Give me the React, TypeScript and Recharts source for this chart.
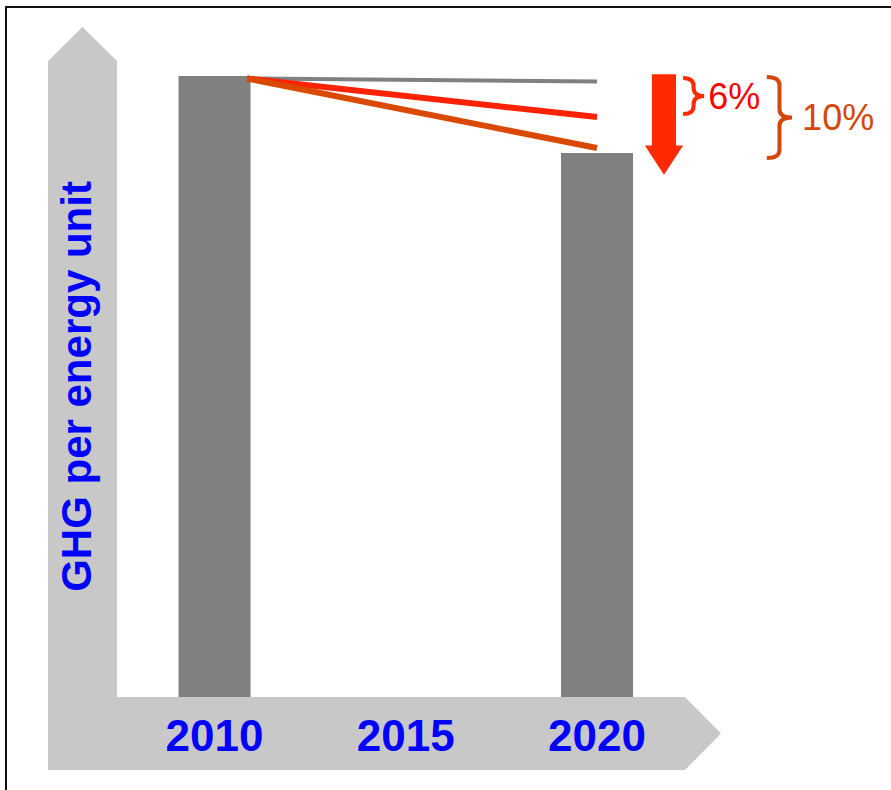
import {
  ComposedChart,
  Bar,
  Line,
  XAxis,
  YAxis,
  ReferenceArea,
} from "recharts";

const years = [2010, 2020];
const ghg = [100, 87.6];
const tickYears = [2010, 2015, 2020];

// three trajectories from the 2010 bar top to 2020
const pathYears = [2010.85, 2020];
const flatPath = [99.6, 99.1];
const redPath = [99.6, 93.4];
const orangePath = [99.6, 88.4];

// annotation spans (in chart units)
const arrowSpan = { x1: 2021.25, x2: 2022.25, top: 100.3, tip: 84.1 };
const braceLabels = ["6%", "10%"];
const braceX = [
  [2022.25, 2022.8],
  [2024.44, 2025.1],
];
const braceY = [
  [99.68, 93.88],
  [99.84, 86.8],
];
const braceColors = ["#ff2a00", "#d4470a"];
const labelColors = ["#ff0000", "#d4470a"];
const labelGap = [4, 10];

const barData = years.map((y, i) => ({ year: y, ghg: ghg[i] }));
const mkPath = (vals: number[]) =>
  pathYears.map((y, i) => ({ year: y, v: vals[i] }));

const FONT = "'Liberation Sans', Arial, sans-serif";
const BAR_W = 72;

const WideBar = (props: any) => {
  const { x, y, width, height } = props;
  const cx = x + width / 2;
  return (
    <rect x={cx - BAR_W / 2} y={y} width={BAR_W} height={height} fill="#808080" />
  );
};

const DownArrow = (props: any) => {
  const { x, y, width, height } = props;
  const cx = x + width / 2;
  const shaft = width * 0.63;
  const head = height * 0.29;
  const d = `M${cx - shaft / 2},${y} L${cx + shaft / 2},${y} L${cx + shaft / 2},${
    y + height - head
  } L${x + width},${y + height - head} L${cx},${y + height} L${x},${
    y + height - head
  } L${cx - shaft / 2},${y + height - head} Z`;
  return <path d={d} fill="#ff2a00" />;
};

const makeBrace = (idx: number) => (props: any) => {
  const { x, y, width, height } = props;
  const x0 = x;
  const xm = x + width * 0.5;
  const x1 = x + width;
  const y0 = y;
  const y1 = y + height;
  const mid = y + height / 2;
  const r = Math.min(8, height / 4);
  const d = `M${x0},${y0} Q${xm},${y0} ${xm},${y0 + r} L${xm},${mid - r} Q${xm},${mid} ${x1},${mid} Q${xm},${mid} ${xm},${
    mid + r
  } L${xm},${y1 - r} Q${xm},${y1} ${x0},${y1}`;
  return (
    <g>
      <path d={d} fill="none" stroke={braceColors[idx]} strokeWidth={4} />
      <text
        x={x1 + labelGap[idx]}
        y={mid + 13}
        fontSize={36}
        fontFamily={FONT}
        fill={labelColors[idx]}
      >
        {braceLabels[idx]}
      </text>
    </g>
  );
};

const YearTick = (props: any) => {
  const { x, y, payload } = props;
  return (
    <text
      x={x}
      y={y + 52}
      textAnchor="middle"
      fontSize={44}
      fontWeight="bold"
      fontFamily={FONT}
      fill="#0000ff"
    >
      {payload.value}
    </text>
  );
};

const YLabel = (props: any) => {
  const { viewBox } = props;
  const cx = viewBox.x + viewBox.width / 2 + 8;
  const cy = viewBox.y + viewBox.height / 2;
  return (
    <text
      x={cx}
      y={cy}
      transform={`rotate(-90, ${cx}, ${cy})`}
      textAnchor="middle"
      fontSize={42}
      fontWeight="bold"
      fontFamily={FONT}
      fill="#0000ff"
    >
      GHG per energy unit
    </text>
  );
};

export default function App() {
  return (
    <div
      style={{
        position: "absolute",
        left: 0,
        top: 0,
        width: 891,
        height: 790,
        overflow: "hidden",
        background: "#fff",
      }}
    >
      <div
        style={{
          position: "absolute",
          left: 5,
          top: 6,
          width: 1000,
          height: 1000,
          borderTop: "2px solid #111",
          borderLeft: "2px solid #111",
        }}
      />
      {/* big gray arrow axes */}
      <svg
        width={891}
        height={790}
        style={{ position: "absolute", left: 0, top: 0 }}
      >
        <polygon
          points="48,61 82.5,27 117,61 117,697 685,697 721,733.5 685,770 48,770"
          fill="#c8c8c8"
        />
      </svg>
      <div style={{ position: "absolute", left: 0, top: 0 }}>
        <ComposedChart
          width={891}
          height={790}
          data={barData}
          margin={{ top: 76, right: 9, bottom: 20, left: 48 }}
        >
          <XAxis
            dataKey="year"
            type="number"
            domain={[2007.45, 2027.45]}
            ticks={tickYears}
            height={73}
            axisLine={false}
            tickLine={false}
            tickSize={0}
            tick={<YearTick />}
          />
          <YAxis
            width={69}
            domain={[0, 100]}
            tick={false}
            axisLine={false}
            tickLine={false}
            label={<YLabel />}
          />
          <Bar
            dataKey="ghg"
            fill="#808080"
            shape={<WideBar />}
            isAnimationActive={false}
          />
          <Line
            data={mkPath(flatPath)}
            dataKey="v"
            stroke="#808080"
            strokeWidth={4}
            dot={false}
            isAnimationActive={false}
          />
          <Line
            data={mkPath(redPath)}
            dataKey="v"
            stroke="#ff2200"
            strokeWidth={6}
            dot={false}
            isAnimationActive={false}
          />
          <Line
            data={mkPath(orangePath)}
            dataKey="v"
            stroke="#d94a00"
            strokeWidth={6}
            dot={false}
            isAnimationActive={false}
          />
          <ReferenceArea
            x1={arrowSpan.x1}
            x2={arrowSpan.x2}
            y1={arrowSpan.tip}
            y2={arrowSpan.top}
            ifOverflow="visible"
            shape={<DownArrow />}
          />
          {braceLabels.map((_, i) => (
            <ReferenceArea
              key={i}
              x1={braceX[i][0]}
              x2={braceX[i][1]}
              y1={braceY[i][1]}
              y2={braceY[i][0]}
              ifOverflow="visible"
              shape={makeBrace(i)}
            />
          ))}
        </ComposedChart>
      </div>
    </div>
  );
}
